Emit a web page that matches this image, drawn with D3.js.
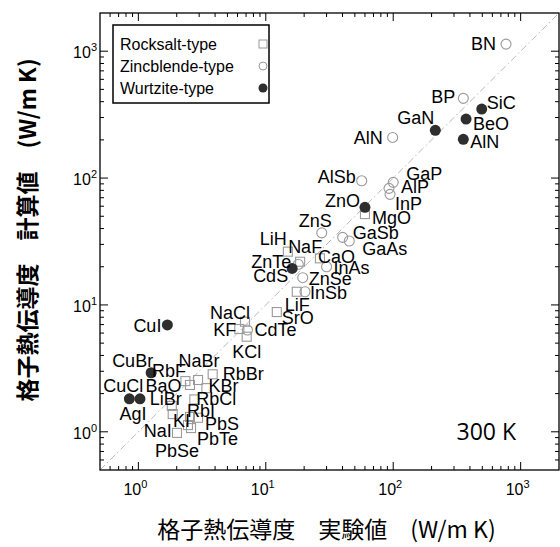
<!DOCTYPE html>
<html>
<head>
<meta charset="utf-8">
<script src="https://cdn.jsdelivr.net/npm/d3@7"></script>
<style>
body { margin: 0; background: #fff; }
svg { display: block; }
</style>
</head>
<body>
<script>
// experimental vs calculated lattice thermal conductivity (W/m K), 300 K
const rocksaltNames = ["NaCl", "KF", "KCl", "MgO", "CaO", "LiH", "NaF", "LiF", "SrO", "BaO", "NaBr", "RbBr", "KBr", "RbF", "RbCl", "LiBr", "NaI", "RbI", "PbS", "KI", "PbTe", "PbSe"];
const rocksaltExp  = [6.87, 6.2, 7.08, 60, 26.6, 14.9, 18.6, 17.5, 12.2, 2.34, 2.94, 3.83, 3.42, 2.54, 2.75, 1.83, 1.86, 2.54, 2.94, 2.45, 2.59, 2.01];
const rocksaltCalc = [7.37, 6.46, 5.62, 52, 23.3, 26.3, 21.9, 12.7, 8.79, 2.51, 2.56, 2.84, 2.21, 2.34, 1.80, 1.60, 1.38, 1.31, 1.29, 1.13, 1.07, 0.98];

const zincNames = ["BN", "BP", "AlN", "AlSb", "GaP", "AlP", "InP", "ZnS", "GaSb", "GaAs", "ZnTe", "InAs", "ZnSe", "InSb", "CdTe"];
const zincExp   = [768, 355, 99, 56.6, 100, 92.7, 94.4, 27.5, 40.1, 45.2, 18, 30, 19.5, 20.3, 7.18];
const zincCalc  = [1137, 425, 209, 95.2, 92.5, 83, 74.4, 37, 34.1, 31.9, 20.9, 20, 16.4, 12.7, 6.34];

const wurtNames = ["SiC", "BeO", "GaN", "AlN", "ZnO", "CdS", "CuI", "CuBr", "CuCl", "AgI"];
const wurtExp   = [495, 373, 214, 355, 60, 16.1, 1.69, 1.26, 0.85, 1.03];
const wurtCalc  = [350, 292, 238, 202, 58.8, 19.4, 6.95, 2.92, 1.82, 1.82];

const majorTicks = [1, 10, 100, 1000];
const legendNames = ["Rocksalt-type", "Zincblende-type", "Wurtzite-type"];

// label placement: [dx, dy, anchor] relative to each marker
const rocksaltLabel = [[5,-3,"end"],[-3,7,"end"],[0,21,"middle"],[7,10,"start"],[-2,5,"start"],[-1,-7,"end"],[-12,-9,"start"],[-12,19,"start"],[5,12,"start"],[-4,11,"end"],[1,-13,"middle"],[10,6,"start"],[2,4,"start"],[-38,-8,"start"],[2,6,"start"],[10,-1,"end"],[-1,23,"end"],[-3,0,"start"],[7,12,"start"],[-15,2,"start"],[6,17,"start"],[0,24,"middle"]];
const zincLabel = [[-10,6,"end"],[-8,5,"end"],[-10,7,"end"],[-6,2,"end"],[13,-2,"start"],[12,5,"start"],[5,16,"start"],[10,-6,"end"],[10,2,"start"],[13,14,"start"],[-7,4,"end"],[7,7,"start"],[6,7,"start"],[5,7,"start"],[7,6,"start"]];
const wurtLabel = [[5,0,"start"],[7,11,"start"],[-1,-6,"end"],[7,9,"start"],[-5,0,"end"],[-4,14,"end"],[-6,7,"end"],[2,-6,"end"],[-6,-7,"middle"],[-7,21,"middle"]];

const margin = {top: 13, right: 1, bottom: 77, left: 100},
  width = 560 - margin.left - margin.right,
  height = 547 - margin.top - margin.bottom;

const labelFont = "'Liberation Sans', Arial, Helvetica, sans-serif";
const cjkFont = "'Noto Sans CJK JP', 'Noto Sans CJK SC', sans-serif";

const svg = d3.select("body")
  .append("svg")
  .attr("width", width + margin.left + margin.right)
  .attr("height", height + margin.top + margin.bottom)
  .append("g")
  .attr("transform", `translate(${margin.left},${margin.top})`);

const x = d3.scaleLog().domain([0.5, 2000]).range([0, width]);
const y = d3.scaleLog().domain([0.5, 2000]).range([height, 0]);

const minor = x.ticks().filter(t => !majorTicks.includes(t) && t > 0.5 && t < 2000);

// ticks on all four sides, pointing inward
function drawTicks(g, vals, len) {
  g.selectAll(null).data(vals).enter().append("line")
    .attr("x1", d => x(d)).attr("x2", d => x(d)).attr("y1", height).attr("y2", height - len);
  g.selectAll(null).data(vals).enter().append("line")
    .attr("x1", d => x(d)).attr("x2", d => x(d)).attr("y1", 0).attr("y2", len);
  g.selectAll(null).data(vals).enter().append("line")
    .attr("y1", d => y(d)).attr("y2", d => y(d)).attr("x1", 0).attr("x2", len);
  g.selectAll(null).data(vals).enter().append("line")
    .attr("y1", d => y(d)).attr("y2", d => y(d)).attr("x1", width).attr("x2", width - len);
}
const tickG = svg.append("g").attr("stroke", "#000").attr("stroke-width", 1);
drawTicks(tickG.append("g"), majorTicks, 8);
drawTicks(tickG.append("g"), minor, 4);

// diagonal y = x
svg.append("line")
  .attr("x1", x(0.5)).attr("y1", y(0.5))
  .attr("x2", x(2000)).attr("y2", y(2000))
  .attr("stroke", "#b0b0b0")
  .attr("stroke-width", 0.9)
  .attr("stroke-dasharray", "7,3,1.5,3");

svg.append("rect")
  .attr("width", width).attr("height", height)
  .attr("fill", "none").attr("stroke", "#000").attr("stroke-width", 1.3);

// tick labels
function powLabel(sel, e) {
  sel.append("tspan").text("10");
  sel.append("tspan").attr("dy", -7).attr("font-size", 11).text(e);
}
majorTicks.forEach(t => {
  svg.append("text")
    .attr("x", x(t) - 3).attr("y", height + 25)
    .attr("text-anchor", "middle")
    .style("font-family", labelFont).style("font-size", "16px")
    .call(powLabel, Math.round(Math.log10(t)));
  svg.append("text")
    .attr("x", -3).attr("y", y(t) + 7)
    .attr("text-anchor", "end")
    .style("font-family", labelFont).style("font-size", "16px")
    .call(powLabel, Math.round(Math.log10(t)));
});

// axis titles
svg.append("text")
  .attr("text-anchor", "middle")
  .attr("x", width / 2 - 3)
  .attr("y", height + 68)
  .style("font-family", cjkFont)
  .style("font-size", "23px")
  .text("格子熱伝導度　実験値　(W/m K)");

svg.append("text")
  .attr("text-anchor", "middle")
  .attr("transform", "rotate(-90)")
  .attr("x", -217)
  .attr("y", -64)
  .style("font-family", cjkFont)
  .style("font-size", "23px")
  .style("font-weight", "bold")
  .text("格子熱伝導度　計算値　(W/m K)");

// markers
const sq = 9;
const rs = rocksaltNames.map((n, i) => ({name: n, ex: rocksaltExp[i], ca: rocksaltCalc[i], lab: rocksaltLabel[i]}));
const zb = zincNames.map((n, i) => ({name: n, ex: zincExp[i], ca: zincCalc[i], lab: zincLabel[i]}));
const wz = wurtNames.map((n, i) => ({name: n, ex: wurtExp[i], ca: wurtCalc[i], lab: wurtLabel[i]}));

svg.append("g").selectAll("rect")
  .data(rs).enter().append("rect")
  .attr("x", d => x(d.ex) - sq / 2)
  .attr("y", d => y(d.ca) - sq / 2)
  .attr("width", sq).attr("height", sq)
  .attr("fill", "none").attr("stroke", "#9a9a9a").attr("stroke-width", 1.1);

svg.append("g").selectAll("circle")
  .data(zb).enter().append("circle")
  .attr("cx", d => x(d.ex)).attr("cy", d => y(d.ca)).attr("r", 5)
  .attr("fill", "none").attr("stroke", "#9a9a9a").attr("stroke-width", 1.1);

svg.append("g").selectAll("circle")
  .data(wz).enter().append("circle")
  .attr("cx", d => x(d.ex)).attr("cy", d => y(d.ca)).attr("r", 5.5)
  .attr("fill", "#2e2e2e");

// point labels
svg.append("g").selectAll("text")
  .data(rs.concat(zb, wz)).enter().append("text")
  .attr("x", d => x(d.ex) + d.lab[0])
  .attr("y", d => y(d.ca) + d.lab[1])
  .attr("text-anchor", d => d.lab[2])
  .style("font-family", labelFont)
  .style("font-size", "18px")
  .text(d => d.name);

// legend
const leg = svg.append("g").attr("transform", "translate(13,12)");
leg.append("rect")
  .attr("width", 156).attr("height", 78)
  .attr("fill", "#fff").attr("stroke", "#000").attr("stroke-width", 1.5);
leg.selectAll("text").data(legendNames).enter().append("text")
  .attr("x", 7).attr("y", (d, i) => 25 + i * 22)
  .style("font-family", labelFont).style("font-size", "16px")
  .text(d => d);
leg.append("rect").attr("x", 146).attr("y", 15).attr("width", 8).attr("height", 8)
  .attr("fill", "none").attr("stroke", "#9a9a9a");
leg.append("circle").attr("cx", 150).attr("cy", 41).attr("r", 4)
  .attr("fill", "none").attr("stroke", "#9a9a9a");
leg.append("circle").attr("cx", 150).attr("cy", 63).attr("r", 4.5)
  .attr("fill", "#2e2e2e");

svg.append("text")
  .attr("x", width - 43).attr("y", height - 30)
  .attr("text-anchor", "end")
  .style("font-family", "'Open Sans', sans-serif")
  .style("font-size", "23px")
  .text("300 K");
</script>
</body>
</html>
